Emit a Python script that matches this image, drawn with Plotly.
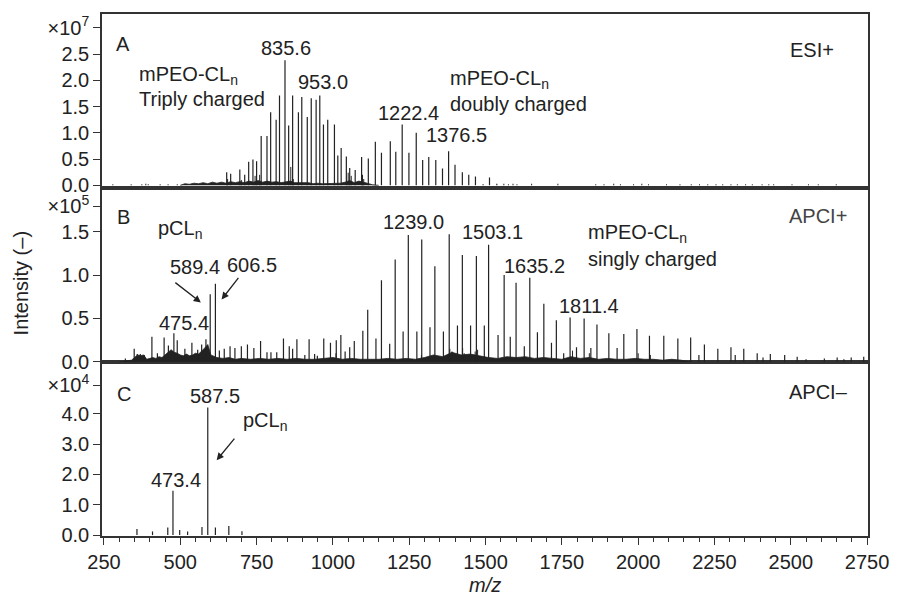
import plotly.graph_objects as go

# ---------------- data (m/z, intensity) ----------------
# Panel A: ESI+  (intensity in units of 1e7)
A_mz = [652, 665, 695, 711, 724, 738, 750, 765, 784, 796, 814, 825, 843, 855, 868, 887, 898, 916, 929, 945,
        957, 969, 983, 1005, 1016, 1027, 1044, 1055, 1073, 1094, 1116, 1139, 1159, 1188, 1206, 1227, 1249, 1273,
        1294, 1314, 1337, 1359, 1379, 1400, 1424, 1445, 1467, 1492, 1513, 1537]
A_h = [0.25, 0.22, 0.30, 0.20, 0.45, 0.49, 0.46, 0.94, 0.94, 1.39, 1.25, 1.71, 2.38, 1.14, 1.71, 1.39, 1.68, 1.30, 1.66, 1.63,
       1.71, 1.16, 1.25, 1.16, 0.57, 0.71, 0.55, 0.33, 0.29, 0.54, 0.51, 0.83, 0.62, 0.84, 0.64, 1.16, 0.62, 1.00,
       0.48, 0.54, 0.48, 0.32, 0.65, 0.39, 0.25, 0.20, 0.17, 0.02, 0.15, 0.03]
A_minor_mz = [279, 339, 374, 387, 395, 434, 460, 490, 655, 700, 745, 760, 862, 870, 1050, 1060, 1097, 1101,
              1560, 1575, 1590, 1603, 1651, 1737, 1861, 1888, 1920, 1942, 1985, 2012, 2034, 2093, 2137, 2174,
              2201, 2228, 2255, 2277, 2304, 2325, 2352, 2374, 2406, 2428, 2444, 2504, 2558, 2590, 2649]
A_minor_h = [0.02, 0.02, 0.02, 0.03, 0.02, 0.02, 0.02, 0.02, 0.12, 0.10, 0.18, 0.20, 0.35, 0.12, 0.24, 0.18, 0.20, 0.12,
             0.03, 0.02, 0.03, 0.02, 0.03, 0.03, 0.02, 0.02, 0.03, 0.02, 0.02, 0.03, 0.02, 0.02, 0.02, 0.02,
             0.02, 0.02, 0.02, 0.02, 0.02, 0.02, 0.02, 0.02, 0.02, 0.02, 0.02, 0.02, 0.02, 0.02, 0.02]
A_env_mz = [500, 515, 530, 545, 560, 575, 590, 605, 620, 635, 650, 665, 680, 695, 710, 725, 740, 755, 770, 785,
            800, 815, 830, 845, 860, 875, 890, 905, 920, 935, 950, 965, 980, 995, 1010, 1025, 1040, 1055, 1070, 1085,
            1100, 1115, 1130, 1150]
A_env_h = [0.0, 0.03, 0.02, 0.04, 0.03, 0.05, 0.03, 0.06, 0.04, 0.06, 0.04, 0.07, 0.05, 0.07, 0.05, 0.08, 0.06, 0.09, 0.06, 0.08,
           0.06, 0.07, 0.05, 0.06, 0.08, 0.05, 0.05, 0.04, 0.05, 0.03, 0.04, 0.03, 0.03, 0.04, 0.03, 0.04, 0.06, 0.09, 0.05, 0.08,
           0.06, 0.03, 0.01, 0.0]

# Panel B: APCI+  (intensity in units of 1e5)
B_mz = [320, 349, 359, 369, 382, 407, 425, 447, 461, 479, 490, 515, 538, 557, 570, 584, 598, 615, 628, 644,
        663, 679, 700, 720, 741, 763, 784, 797, 816, 838, 857, 868, 882, 908, 922, 940, 949, 970, 992, 1011,
        1026, 1040, 1055, 1070, 1098, 1114, 1141, 1159, 1186, 1204, 1230, 1247, 1275, 1291, 1318, 1334, 1362, 1381,
        1408, 1424, 1451, 1470, 1496, 1510, 1541, 1561, 1581, 1600, 1627, 1645, 1670, 1691, 1716, 1732, 1756, 1777,
        1798, 1823, 1845, 1865, 1904, 1931, 1953, 1996, 2037, 2084, 2130, 2172, 2199, 2217, 2261, 2304, 2318, 2346,
        2390, 2409, 2433, 2480, 2521, 2550, 2610, 2652, 2674, 2698, 2739]
B_h = [0.04, 0.15, 0.09, 0.09, 0.08, 0.29, 0.10, 0.28, 0.19, 0.33, 0.25, 0.15, 0.22, 0.14, 0.20, 0.26, 0.78, 0.90, 0.13, 0.15,
       0.18, 0.16, 0.18, 0.20, 0.16, 0.24, 0.11, 0.11, 0.11, 0.27, 0.18, 0.15, 0.26, 0.08, 0.26, 0.09, 0.07, 0.27, 0.22, 0.25,
       0.31, 0.12, 0.17, 0.24, 0.36, 0.60, 0.27, 0.94, 0.21, 1.18, 0.35, 1.46, 0.35, 1.41, 0.40, 1.10, 0.35, 1.47,
       0.42, 1.23, 0.42, 1.22, 0.42, 1.35, 0.31, 1.00, 0.29, 0.91, 0.18, 0.97, 0.34, 0.67, 0.22, 0.48, 0.10, 0.51,
       0.17, 0.50, 0.16, 0.43, 0.33, 0.16, 0.32, 0.38, 0.30, 0.30, 0.27, 0.28, 0.08, 0.20, 0.15, 0.17, 0.08, 0.15,
       0.10, 0.05, 0.09, 0.08, 0.06, 0.03, 0.04, 0.05, 0.03, 0.05, 0.06]
B_minor_mz = [1010, 1290, 1383, 1390, 1425, 1430, 1466, 1474, 1785, 1840, 2000, 2040]
B_minor_h = [0.10, 0.08, 0.15, 0.12, 0.16, 0.10, 0.12, 0.14, 0.13, 0.10, 0.10, 0.08]
B_env_mz = [300, 320, 340, 350, 360, 370, 380, 390, 400, 410, 420, 430, 440, 450, 460, 470, 480, 490, 500, 510,
            520, 530, 540, 550, 560, 570, 580, 590, 600, 620, 640, 660, 680, 700, 730, 760, 790, 820, 850, 880,
            910, 940, 970, 1000, 1030, 1060, 1090, 1120, 1150, 1180, 1210, 1240, 1270, 1300, 1330, 1360, 1390, 1420,
            1450, 1480, 1510, 1540, 1570, 1600, 1630, 1660, 1690, 1720, 1750, 1780, 1810, 1840, 1870, 1900, 1930,
            1960, 1990, 2020, 2050, 2080, 2110, 2140, 2170]
B_env_h = [0.0, 0.01, 0.02, 0.05, 0.08, 0.07, 0.08, 0.03, 0.04, 0.05, 0.04, 0.06, 0.05, 0.08, 0.12, 0.14, 0.11, 0.10, 0.08, 0.07,
           0.09, 0.07, 0.08, 0.10, 0.09, 0.12, 0.16, 0.20, 0.08, 0.05, 0.04, 0.05, 0.03, 0.04, 0.03, 0.04, 0.03, 0.04, 0.03, 0.04,
           0.03, 0.03, 0.04, 0.05, 0.03, 0.04, 0.03, 0.03, 0.03, 0.04, 0.03, 0.04, 0.03, 0.05, 0.08, 0.06, 0.11, 0.08,
           0.09, 0.07, 0.05, 0.04, 0.06, 0.05, 0.06, 0.04, 0.05, 0.04, 0.03, 0.06, 0.04, 0.05, 0.03, 0.04, 0.03,
           0.03, 0.04, 0.03, 0.03, 0.02, 0.03, 0.02, 0.0]

# Panel C: APCI-  (intensity in units of 1e4)
C_mz = [358, 409, 459, 476, 498, 524, 571, 590, 615, 659, 702]
C_h = [0.20, 0.12, 0.25, 1.46, 0.17, 0.12, 0.27, 4.20, 0.25, 0.30, 0.13]

x_ticks = [250, 500, 750, 1000, 1250, 1500, 1750, 2000, 2250, 2500, 2750]
A_ticks = [0.0, 0.5, 1.0, 1.5, 2.0, 2.5, 3.0]
A_ticktext = ["0.0", "0.5", "1.0", "1.5", "2.0", "2.5", "×10<sup>7</sup>"]
B_ticks = [0.0, 0.5, 1.0, 1.5, 1.79]
B_ticktext = ["0.0", "0.5", "1.0", "1.5", "×10<sup>5</sup>"]
C_ticks = [0.0, 1.0, 2.0, 3.0, 4.0, 4.93]
C_ticktext = ["0.0", "1.0", "2.0", "3.0", "4.0", "×10<sup>4</sup>"]

# ---------------- helpers ----------------
INK = "#222222"
FONT = "Liberation Sans, Arial, sans-serif"
FS = 20
L, R, T, B = 102, 24, 13, 60
W, H = 901, 596


def stems(mz, h):
    xs, ys = [], []
    for m, v in zip(mz, h):
        xs += [m, m, None]
        ys += [0, v, None]
    return xs, ys


def P(px, py):
    return (px - L) / (W - L - R), (H - B - py) / (H - T - B)


fig = go.Figure()


def add_panel(xa, ya, main, minor, env):
    if env is not None:
        fig.add_trace(go.Scatter(x=env[0], y=env[1], mode="lines", fill="tozeroy",
                                 line=dict(color=INK, width=0.8), fillcolor=INK,
                                 xaxis=xa, yaxis=ya, showlegend=False, hoverinfo="skip"))
    for arr, w in ((minor, 1.0), (main, 1.2)):
        if arr is None:
            continue
        xs, ys = stems(*arr)
        fig.add_trace(go.Scatter(x=xs, y=ys, mode="lines", line=dict(color=INK, width=w),
                                 xaxis=xa, yaxis=ya, showlegend=False, hoverinfo="skip"))


add_panel("x3", "y", (A_mz, A_h), (A_minor_mz, A_minor_h), (A_env_mz, A_env_h))
add_panel("x2", "y2", (B_mz, B_h), (B_minor_mz, B_minor_h), (B_env_mz, B_env_h))
add_panel("x", "y3", (C_mz, C_h), None, None)

xr = [243.5, 2753]
dA, dB = 0.6673, 0.3327
axis_common = dict(showline=True, linecolor="#333333", linewidth=1.5, mirror=True,
                   showgrid=False, zeroline=False)
ytick_common = dict(ticks="outside", ticklen=7, tickwidth=1.3, tickcolor="#333333",
                    tickfont=dict(family=FONT, size=FS, color=INK))

fig.update_layout(
    width=W, height=H, margin=dict(l=L, r=R, t=T, b=B),
    paper_bgcolor="white", plot_bgcolor="white",
    font=dict(family=FONT, size=FS, color=INK),
    xaxis=dict(domain=[0, 1], anchor="y3", range=xr, tickvals=x_ticks,
               ticks="outside", ticklen=7, tickwidth=1.3, tickcolor="#333333",
               tickfont=dict(family=FONT, size=FS, color=INK),
               minor=dict(dtick=50, tick0=250, ticks="outside", ticklen=4, tickwidth=1.1, tickcolor="#333333"),
               **axis_common),
    xaxis2=dict(domain=[0, 1], anchor="y2", range=xr, matches="x", showticklabels=False, ticks="",
                **axis_common),
    xaxis3=dict(domain=[0, 1], anchor="y", range=xr, matches="x", showticklabels=False, ticks="",
                **axis_common),
    yaxis=dict(domain=[dA, 1], anchor="x3", range=[-0.045, 3.263], tickvals=A_ticks, ticktext=A_ticktext,
               **ytick_common, **axis_common),
    yaxis2=dict(domain=[dB, dA], anchor="x2", range=[-0.005, 2.006], tickvals=B_ticks, ticktext=B_ticktext,
                **ytick_common, **axis_common),
    yaxis3=dict(domain=[0, dB], anchor="x", range=[-0.03, 5.69], tickvals=C_ticks, ticktext=C_ticktext,
                **ytick_common, **axis_common),
)

# ---------------- text annotations ----------------
def text(px, py, s, xanchor="center", size=FS, color=INK, angle=0):
    x, y = P(px, py)
    fig.add_annotation(x=x, y=y, xref="paper", yref="paper", text=s, showarrow=False,
                       xanchor=xanchor, yanchor="middle", textangle=angle,
                       font=dict(family=FONT, size=size, color=color))


def arrow(tail, tip):
    x, y = P(*tip)
    fig.add_annotation(x=x, y=y, xref="paper", yref="paper", text="", showarrow=True,
                       ax=tail[0] - tip[0], ay=tail[1] - tip[1],
                       arrowhead=2, arrowsize=1.1, arrowwidth=1.3, arrowcolor=INK, standoff=0)


# Panel A
text(123, 43, "A")
text(288, 47, "835.6")
text(326, 81, "953.0")
text(137, 75, "mPEO-CL<sub>n</sub>", xanchor="left")
text(137, 98, "Triply charged", xanchor="left")
text(412, 112, "1222.4")
text(428, 134, "1376.5", xanchor="left")
text(452, 79, "mPEO-CL<sub>n</sub>", xanchor="left")
text(452, 103, "doubly charged", xanchor="left")
text(820, 49, "ESI+")

# Panel B
text(124, 216, "B")
text(157, 229, "pCL<sub>n</sub>", xanchor="left")
text(196, 266, "589.4")
text(254, 264, "606.5")
arrow((175, 281), (202, 302))
arrow((241, 276), (223, 299))
text(185, 323, "475.4")
text(417, 221, "1239.0")
text(497, 231, "1503.1")
text(540, 265, "1635.2")
text(595, 306, "1811.4")
text(592, 233, "mPEO-CL<sub>n</sub>", xanchor="left")
text(592, 258, "singly charged", xanchor="left")
text(826, 215, "APCI+", color="#444444")

# Panel C
text(124, 394, "C")
text(216, 396, "587.5")
text(243, 421, "pCL<sub>n</sub>", xanchor="left")
arrow((237, 437), (218, 460))
text(177, 480, "473.4")
text(827, 392, "APCI–")

# axis titles
text(21, 283, "Intensity (–)", angle=-90)
text(490, 585, "<i>m/z</i>")

fig.write_html("out.html")
